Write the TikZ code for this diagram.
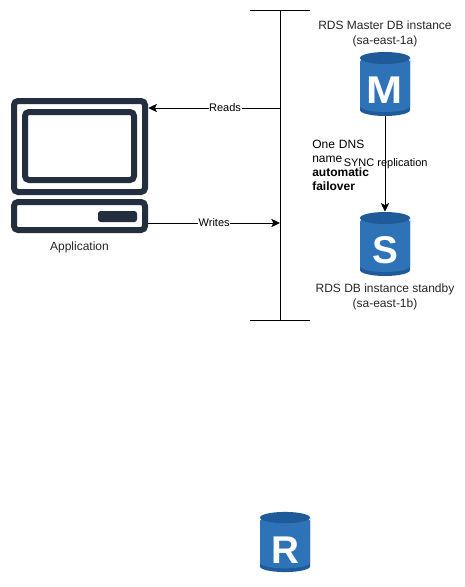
\documentclass[tikz,border=0pt]{standalone}
\usepackage{fontspec}
\setmainfont{Liberation Sans}
\usetikzlibrary{positioning, arrows.meta}

\definecolor{rdsblue}{HTML}{2E73B8}
\definecolor{rdsdark}{HTML}{205B99}
\definecolor{appdark}{HTML}{232F3E}

\begin{document}
\begin{tikzpicture}[
    x=0.75pt, y=-0.75pt,
    arrow/.style={-{Stealth[length=6.5pt,width=6.2pt,inset=1.5pt]}, black, line width=0.75pt},
    busline/.style={black, line width=0.75pt},
    caption/.style={font=\fontsize{9}{11.25}\selectfont, align=center, text=black!85, inner sep=0pt},
    edgelabel/.style={font=\fontsize{8.25}{10}\selectfont, fill=white, inner sep=0.5pt},
    dnstext/.style={font=\fontsize{9}{10.5}\selectfont, align=left, text width=48pt, inner sep=0pt, anchor=north west},
    rdsnode/.style={font=\fontsize{29}{29}\selectfont\bfseries, text=white, minimum width=37.5pt, inner sep=0pt, text height=38.25pt, text depth=9.75pt},
    appnode/.style={minimum width=102.75pt, minimum height=101.25pt, inner sep=0pt},
    appline/.style={draw=appdark, line width=4.5pt, rounded corners=3pt, fill=white},
    rdscyl/.pic={
        \fill[rdsdark] (-25,-26) -- (25,-26) -- (25,26) arc[start angle=0, end angle=180, x radius=25, y radius=6] -- cycle;
        \fill[rdsblue] (-25,-26) -- (25,-26) -- (25,22) arc[start angle=0, end angle=180, x radius=25, y radius=6] -- cycle;
        \draw[white, line width=1.1pt] (-25,-23.5) arc[start angle=180, end angle=360, x radius=25, y radius=6];
        \fill[rdsdark] (0,-26) ellipse[x radius=25, y radius=6];
    }
]
\useasboundingbox (0,0) rectangle (465,587);

% Application (computer icon)
\node[appnode] (app) at (79.5,165.5) {};
\draw[appline] (14,101) rectangle (145,192);
\draw[appline] (25,112) rectangle (134,180);
\draw[appline] (14,202) rectangle (145,230);
\fill[appdark, rounded corners=2pt] (98,211) rectangle (137,222);
\node[caption, below=6.5pt of app] (applabel) {Application};

% Bus line
\coordinate (bustop) at (280,10);
\coordinate (busbot) at (280,320);
\coordinate (topleft) at (250,10);
\coordinate (topright) at (310,10);
\coordinate (botleft) at (250,320);
\coordinate (botright) at (310,320);
\draw[busline] (bustop) -- (busbot);
\draw[busline] (topleft) -- (topright);
\draw[busline] (botleft) -- (botright);

% RDS instances
\pic at (385,84) {rdscyl};
\node[rdsnode] (master) at (385,84) {\scalebox{1.12}[1]{M}};
\pic at (385,244) {rdscyl};
\node[rdsnode] (standby) at (385,244) {S};
\pic[yscale=0.94] at (285,542) {rdscyl};
\node[rdsnode] (replica) at (285,544) {R};

% Labels
\node[caption] (masterlabel) at (385,33.5) {RDS Master DB instance\\(sa-east-1a)};
\node[caption] (standbylabel) at (385,297) {RDS DB instance standby\\(sa-east-1b)};
\node[dnstext] (dns) at (312,140) {One DNS name\\\textbf{automatic failover}};

% Arrows
\coordinate (readsrc) at (280,108);
\coordinate (writedst) at (280,223);
\draw[arrow] (readsrc) -- node[edgelabel, pos=0.417] {Reads} (app.east |- readsrc);
\draw[arrow] (app.east |- writedst) -- node[edgelabel] {Writes} (writedst);
\draw[arrow] (master) -- node[edgelabel, fill=none, xshift=0.5pt] {SYNC replication} (standby);

\end{tikzpicture}
\end{document}
